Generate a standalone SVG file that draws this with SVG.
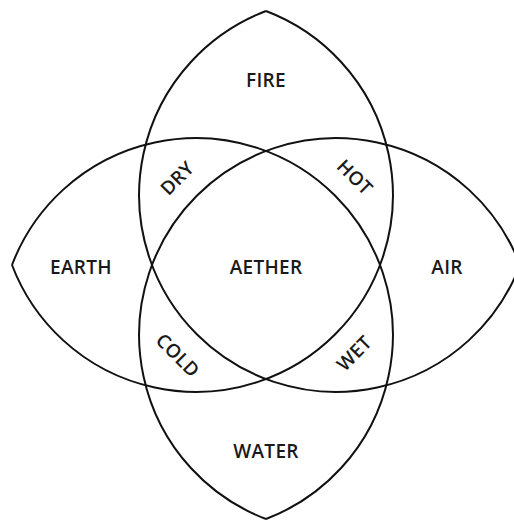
<svg xmlns="http://www.w3.org/2000/svg" width="514" height="521" viewBox="0 0 514 521">
  <style>
    .arc { fill: none; stroke: #111; stroke-width: 2; }
    .lbl { font-family: "Open Sans", "Liberation Sans", sans-serif; font-size: 19px; font-weight: 600; fill: #1a1a1a; text-anchor: middle; letter-spacing: 0.3px; }
  </style>
  <rect width="514" height="521" fill="#fff"/>
  <g id="circles">
    <g id="circle-ul"><path class="arc" d="M 266 11 A 196.87 196.87 0 1 1 12 265"/></g>
    <g id="circle-ur"><path class="arc" d="M 520 265 A 196.87 196.87 0 1 1 266 11"/></g>
    <g id="circle-lr"><path class="arc" d="M 266 519 A 196.87 196.87 0 1 1 520 265"/></g>
    <g id="circle-ll"><path class="arc" d="M 12 265 A 196.87 196.87 0 1 1 266 519"/></g>
  </g>
  <g id="fire"><text class="lbl" x="266" y="87">FIRE</text></g>
  <g id="earth"><text class="lbl" x="81" y="274">EARTH</text></g>
  <g id="aether"><text class="lbl" x="266" y="274">AETHER</text></g>
  <g id="air"><text class="lbl" x="447" y="274">AIR</text></g>
  <g id="water"><text class="lbl" x="266" y="458">WATER</text></g>
  <g id="dry"><text class="lbl" transform="translate(177,178) rotate(-45)" x="0" y="7">DRY</text></g>
  <g id="hot"><text class="lbl" transform="translate(355,177) rotate(45)" x="0" y="7">HOT</text></g>
  <g id="cold"><text class="lbl" transform="translate(178,355) rotate(45)" x="0" y="7">COLD</text></g>
  <g id="wet"><text class="lbl" transform="translate(354,353) rotate(-45)" x="0" y="7">WET</text></g>
</svg>
